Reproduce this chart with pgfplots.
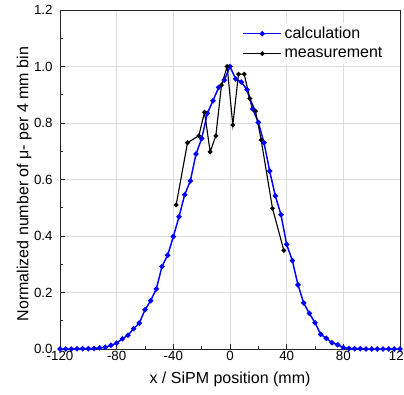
\documentclass[border=0pt]{standalone}
\usepackage{pgfplots}
\pgfplotsset{compat=1.18}
\usepackage{fontspec}
\setmainfont{Liberation Sans}

\pgfplotstableread{
x y
-120 0
-116 0
-112 0
-108 0.001
-104 0.001
-100 0.001
-96 0.002
-92 0.004
-88 0.006
-84 0.013
-80 0.021
-76 0.036
-72 0.049
-68 0.072
-64 0.092
-60 0.139
-56 0.171
-52 0.213
-48 0.292
-44 0.332
-40 0.398
-36 0.468
-32 0.546
-28 0.595
-24 0.690
-20 0.745
-16 0.834
-12 0.879
-8 0.926
-4 0.952
0 1.0
4 0.956
8 0.945
12 0.918
16 0.850
20 0.802
24 0.730
28 0.630
32 0.542
36 0.475
40 0.370
44 0.313
48 0.227
52 0.163
56 0.126
60 0.093
64 0.052
68 0.038
72 0.022
76 0.015
80 0.005
84 0.002
88 0.001
92 0.001
96 0
100 0
104 0
108 0
112 0
116 0
120 0
}\calc

\pgfplotstableread{
x y
-38 0.510
-30 0.730
-22 0.755
-18 0.838
-14 0.698
-10 0.755
-6 0.934
-2 1.0
2 0.793
6 0.973
10 0.973
14 0.887
18 0.842
22 0.740
30 0.498
38 0.349
}\meas

\begin{document}
\begin{tikzpicture}
\begin{axis}[
  name=ax,
  scale only axis,
  width=255pt, height=254.25pt,
  xmin=-120, xmax=120, ymin=0, ymax=1.2,
  xtick={-120,-80,...,120},
  ytick={0,0.2,0.4,0.6,0.8,1.0,1.2},
  minor x tick num=1, minor y tick num=1,
  tick pos=left,
  tick align=inside,
  major tick length=3.5pt, minor tick length=2pt,
  grid=major,
  major grid style={draw=black!13, line width=0.6pt},
  axis line style={line width=0.7pt, draw=black!85},
  every tick/.style={black!85, line width=0.6pt},
  /pgf/number format/assume math mode=true,
  tick label style={font=\fontsize{10}{12}\selectfont},
  xticklabel style={inner sep=1.8pt},
  yticklabel style={xshift=-2pt, /pgf/number format/.cd, fixed, fixed zerofill, precision=1},
  xlabel={x / SiPM position (mm)},
  ylabel={Normalized number of μ- per 4 mm bin},
  label style={font=\fontsize{12}{14}\selectfont},
  xlabel style={at={(axis description cs:0.5,-0.0551)}, anchor=north},
  ylabel style={at={(axis description cs:-0.0694,0.4866)}, anchor=south},
  legend style={at={(1,1)}, anchor=north east, xshift=-10pt, yshift=-9.5pt,
    draw=none, fill=white, font=\fontsize{12}{14}\selectfont,
    inner sep=1pt, row sep=1.2pt},
  legend cell align=left,
  legend image code/.code={\draw[mark repeat=2,mark phase=2,#1] plot coordinates {(0cm,0cm) (0.5cm,0cm) (1cm,0cm)};},
]
\addplot[blue, line width=1.1pt, mark=*, mark size=1.4pt, mark options={solid}] table[x=x,y=y] {\calc};
\addlegendentry{calculation}
\addplot[black, line width=0.85pt, mark=*, mark size=1.3pt] table[x=x,y=y] {\meas};
\addlegendentry{measurement}
\end{axis}
\pgfresetboundingbox
\path[use as bounding box] ([xshift=-45pt,yshift=-33.75pt]ax.south west) rectangle ([xshift=3pt,yshift=7.5pt]ax.north east);
\end{tikzpicture}
\end{document}
